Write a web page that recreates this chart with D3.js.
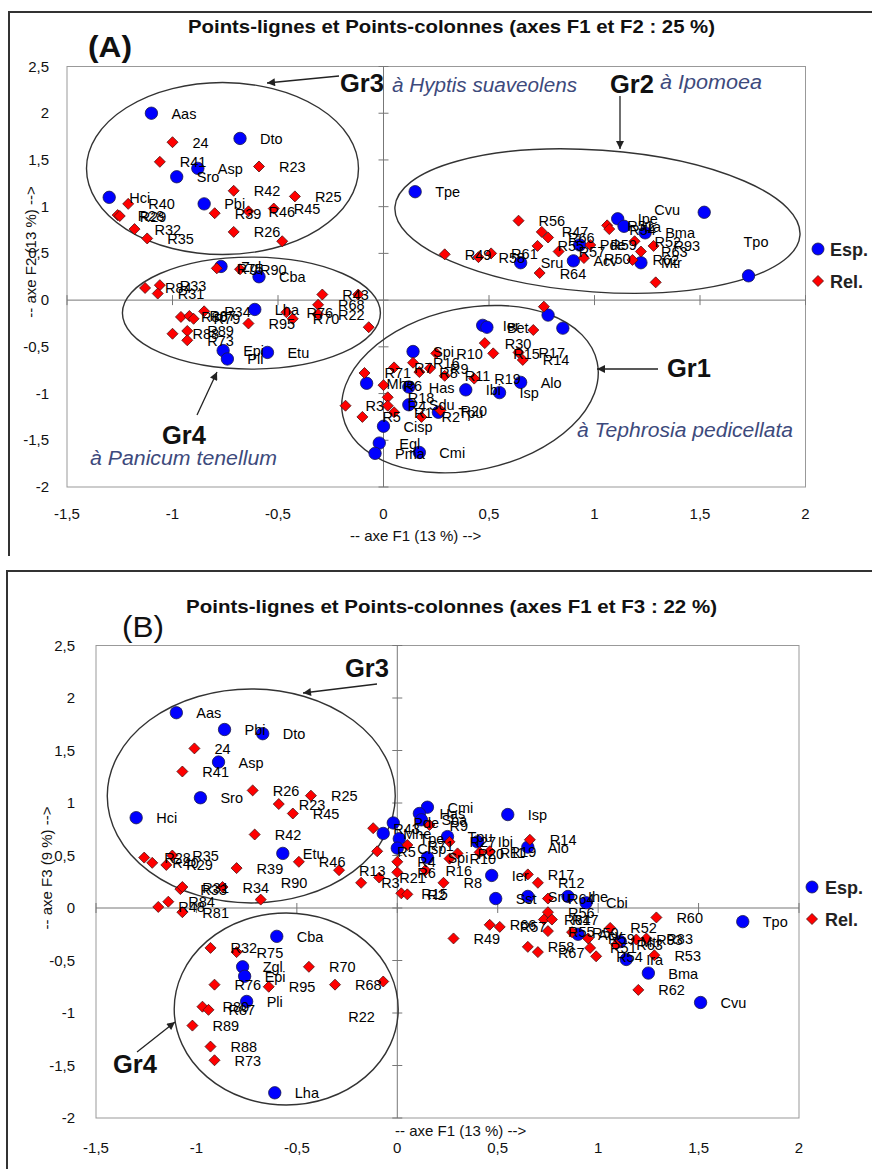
<!DOCTYPE html>
<html>
<head>
<meta charset="utf-8">
<script src="https://cdn.jsdelivr.net/npm/d3@7"></script>
<style>
  body { margin: 0; background: #fff; }
  svg { display: block; font-family: "Liberation Sans", Arial, sans-serif; }
</style>
</head>
<body>
<svg id="chart" width="872" height="1169"></svg>
<script>
// ---- data : [label, F1, F2] and [label, F1, F3] ----
var espA = [
  ["Aas", -1.10, 2.00], ["Dto", -0.68, 1.73], ["Asp", -0.88, 1.41], ["Sro", -0.98, 1.32],
  ["Hci", -1.30, 1.10], ["Pbi", -0.85, 1.03], ["Zgl", -0.77, 0.36], ["Cba", -0.59, 0.25],
  ["Lha", -0.61, -0.10], ["Epi", -0.76, -0.54], ["Pli", -0.74, -0.63], ["Etu", -0.55, -0.56],
  ["Tpe", 0.15, 1.16], ["Cvu", 1.52, 0.94], ["Tpo", 1.73, 0.26], ["Ipe", 1.11, 0.87],
  ["Ira", 1.14, 0.79], ["Bma", 1.24, 0.72], ["Mtr", 1.22, 0.40], ["Sru", 0.65, 0.40],
  ["Acv", 0.90, 0.42], ["Pde", 0.93, 0.59], ["Ier", 0.47, -0.27], ["Bet", 0.49, -0.29],
  ["", 0.78, -0.16], ["", 0.85, -0.30], ["Spi", 0.14, -0.55], ["Has", 0.12, -0.93],
  ["Mhe", -0.08, -0.89], ["Sdu", 0.12, -1.12], ["Tpu", 0.26, -1.20], ["Ibi", 0.39, -0.96],
  ["Isp", 0.55, -0.99], ["Alo", 0.65, -0.88], ["Cisp", 0.00, -1.35], ["Egl", -0.02, -1.53],
  ["Pma", -0.04, -1.64], ["Cmi", 0.17, -1.63]
];
var relA = [
  ["24", -1.00, 1.69], ["R41", -1.06, 1.48], ["R23", -0.59, 1.43], ["R42", -0.71, 1.17],
  ["R25", -0.42, 1.11], ["R45", -0.52, 0.98], ["R46", -0.64, 0.95], ["R39", -0.80, 0.93],
  ["R26", -0.71, 0.73], ["", -0.48, 0.63], ["R40", -1.21, 1.03], ["R28", -1.26, 0.91],
  ["R29", -1.25, 0.90], ["R32", -1.18, 0.76], ["R35", -1.12, 0.66],
  ["R75", -0.79, 0.34], ["R90", -0.68, 0.33], ["R33", -1.06, 0.16], ["R84", -1.13, 0.13],
  ["R31", -1.07, 0.07], ["R34", -0.85, -0.12], ["R80", -0.96, -0.18], ["R87", -0.92, -0.17],
  ["R79", -0.90, -0.20], ["R88", -1.00, -0.36], ["R89", -0.93, -0.33], ["R73", -0.93, -0.43],
  ["R95", -0.64, -0.25], ["R70", -0.43, -0.20], ["R76", -0.46, -0.13], ["R68", -0.31, -0.05],
  ["R22", -0.31, -0.15], ["R43", -0.29, 0.06], ["", -0.12, 0.06], ["", -0.07, -0.29],
  ["", 0.76, -0.07], ["", 0.71, -0.32], ["R30", 0.48, -0.46], ["R15", 0.52, -0.57],
  ["R17", 0.64, -0.56], ["R14", 0.66, -0.64], ["R10", 0.25, -0.57], ["R16", 0.14, -0.67],
  ["R8", 0.17, -0.77], ["R9", 0.22, -0.73], ["R11", 0.29, -0.81], ["R19", 0.43, -0.84],
  ["R7", 0.05, -0.72], ["R71", -0.09, -0.78], ["R6", 0.00, -0.91], ["R18", 0.02, -1.04],
  ["R4", 0.02, -1.13], ["R1", 0.05, -1.20], ["R3", -0.18, -1.13], ["R5", -0.10, -1.25],
  ["R2", 0.18, -1.25], ["R20", 0.27, -1.18],
  ["R49", 0.29, 0.49], ["R58", 0.45, 0.46], ["R61", 0.51, 0.50], ["R56", 0.64, 0.85],
  ["R47", 0.75, 0.73], ["R66", 0.78, 0.67], ["R55", 0.73, 0.58], ["R57", 0.83, 0.52],
  ["R50", 0.95, 0.45], ["R59", 0.98, 0.59], ["R51", 1.06, 0.80], ["R54", 1.07, 0.76],
  ["R52", 1.19, 0.63], ["R63", 1.22, 0.52], ["R93", 1.28, 0.58], ["R62", 1.18, 0.43],
  ["R64", 0.74, 0.29], ["", 1.29, 0.19]
];
var espB = [
  ["Aas", -1.10, 1.86], ["Pbi", -0.86, 1.70], ["Dto", -0.67, 1.66], ["Asp", -0.89, 1.39],
  ["Sro", -0.98, 1.05], ["Hci", -1.30, 0.86], ["Etu", -0.57, 0.52], ["Cba", -0.60, -0.27],
  ["Zgl", -0.77, -0.56], ["Epi", -0.76, -0.65], ["Pli", -0.75, -0.89], ["Lha", -0.61, -1.76],
  ["Cmi", 0.15, 0.96], ["Has", 0.11, 0.90], ["Sba", 0.12, 0.84], ["Pde", -0.02, 0.81],
  ["Mhe", -0.07, 0.71], ["Tpe", 0.01, 0.66], ["Cisp", 0.00, 0.57], ["Spi", 0.15, 0.48],
  ["Tpu", 0.25, 0.68], ["Ibi", 0.40, 0.63], ["Alo", 0.65, 0.58], ["Isp", 0.55, 0.89],
  ["Ier", 0.47, 0.31], ["Sst", 0.49, 0.09], ["Sru", 0.65, 0.11], ["Ihe", 0.85, 0.11],
  ["Cbi", 0.94, 0.05], ["Tpo", 1.72, -0.13], ["Bma", 1.25, -0.62], ["Cvu", 1.51, -0.90],
  ["Ira", 1.14, -0.49], ["Mtr", 1.11, -0.32], ["Acv", 0.90, -0.25]
];
var relB = [
  ["24", -1.01, 1.52], ["R41", -1.07, 1.30], ["R26", -0.72, 1.12], ["R25", -0.43, 1.07],
  ["R23", -0.59, 0.99], ["R45", -0.52, 0.90], ["R42", -0.71, 0.70], ["R46", -0.49, 0.44],
  ["R39", -0.80, 0.38], ["R28", -1.26, 0.48], ["R40", -1.22, 0.43], ["R35", -1.12, 0.50],
  ["R29", -1.15, 0.41], ["R13", -0.29, 0.36], ["R33", -1.08, 0.18], ["R31", -1.07, 0.20],
  ["R34", -0.87, 0.20], ["R90", -0.68, 0.08], ["R48", -1.19, 0.01], ["R84", -1.14, 0.06],
  ["R81", -1.07, -0.04],
  ["R32", -0.93, -0.38], ["R75", -0.80, -0.42], ["R70", -0.44, -0.56], ["R76", -0.91, -0.73],
  ["R95", -0.64, -0.75], ["R68", -0.31, -0.73], ["R22", -0.07, -0.70], ["R80", -0.97, -0.94],
  ["R87", -0.94, -0.97], ["R89", -1.02, -1.12], ["R88", -0.93, -1.32], ["R73", -0.91, -1.45],
  ["R43", -0.12, 0.76], ["R5", -0.10, 0.54], ["R71", 0.05, 0.60], ["R4", 0.00, 0.44],
  ["R6", 0.00, 0.34], ["R3", -0.18, 0.24], ["R21", -0.09, 0.29], ["R15", 0.02, 0.14],
  ["R2", 0.05, 0.13], ["R9", 0.16, 0.79], ["R27", 0.26, 0.63], ["R20", 0.30, 0.52],
  ["R11", 0.41, 0.53], ["R19", 0.46, 0.54], ["R10", 0.26, 0.47], ["R16", 0.14, 0.36],
  ["R8", 0.23, 0.24], ["R14", 0.66, 0.65], ["R17", 0.65, 0.32], ["R12", 0.70, 0.24],
  ["R60", 1.29, -0.09], ["R49", 0.28, -0.29], ["R66", 0.46, -0.16], ["R57", 0.51, -0.18],
  ["R58", 0.65, -0.37], ["R67", 0.70, -0.42], ["R56", 0.75, -0.04], ["R61", 0.73, -0.11],
  ["R47", 0.77, -0.11], ["R55", 0.75, -0.22], ["R50", 0.87, -0.23], ["R59", 0.95, -0.29],
  ["R51", 0.96, -0.38], ["R54", 0.99, -0.46], ["R52", 1.06, -0.19], ["R63", 1.09, -0.35],
  ["R93", 1.19, -0.30], ["R83", 1.24, -0.29], ["R53", 1.28, -0.45], ["R62", 1.20, -0.78],
  ["R64", 0.75, 0.09]
];
var xDomain = [-1.5, 2];
var yDomain = [-2, 2.5];
var legendNames = ["Esp.", "Rel."];

// labels moved by hand in the original (px)
var nudgeA = { Cvu: [-70, -3], Tpo: [-25, -34] };
var nudgeB = { R22: [-55, 35], R90: [0, -17] };

var svg = d3.select("#chart");
var loc = d3.formatLocale({ decimal: ",", thousands: " ", grouping: [3], currency: ["", ""], minus: "-" });
var fmt = loc.format("~f");

svg.append("defs").append("marker")
  .attr("id", "arr").attr("viewBox", "0 0 10 10")
  .attr("refX", 10).attr("refY", 5)
  .attr("markerWidth", 11).attr("markerHeight", 8)
  .attr("markerUnits", "userSpaceOnUse").attr("orient", "auto")
  .append("path").attr("d", "M0,0L10,5L0,10Z").attr("fill", "#222");

var diamond = "M0,-5.5L5.5,0L0,5.5L-5.5,0Z";

var panels = [
  {
    xr: [67, 805.5], yr: [487, 66.5], border: "M9,556V12H872",
    esp: espA, rel: relA, nudge: nudgeA,
    title: { x: 188, y: 33, len: 527, t: "Points-lignes et Points-colonnes (axes F1 et F2 : 25 %)" },
    tag: { x: 88, y: 57, t: "(A)", w: "bold", s: 29, len: 44 },
    xTickY: 519, yTickX: 49,
    xTitle: { x: 350, y: 541 }, yTitle: { x: 31, y: 252, t: "-- axe F2 (13 %) -->" },
    legend: { cx: 818, y1: 249, y2: 281, tx: 830 },
    ell: [
      { cx: -0.763, cy: 1.408, rx: 136, ry: 86, rot: 0 },
      { cx: 1.014, cy: 0.846, rx: 203, ry: 71, rot: 4 },
      { cx: -0.626, cy: -0.139, rx: 129, ry: 56, rot: 0 },
      { cx: 0.41, cy: -0.953, rx: 130, ry: 81, rot: -12 }
    ],
    groups: [
      { t: "Gr3", x: 340, y: 92 }, { t: "Gr2", x: 610, y: 93 },
      { t: "Gr4", x: 162, y: 444 }, { t: "Gr1", x: 667, y: 377 }
    ],
    italics: [
      { t: "à Hyptis suaveolens", x: 392, y: 92, len: 185 },
      { t: "à Ipomoea", x: 660, y: 89, len: 102 },
      { t: "à Panicum tenellum", x: 90, y: 465, len: 187 },
      { t: "à Tephrosia pedicellata", x: 577, y: 437, len: 216 }
    ],
    arrows: [[339, 76, 267, 83], [620, 96, 620, 149], [197, 415, 217, 372], [658, 369, 597, 369]]
  },
  {
    xr: [96, 799], yr: [1118, 645.5], border: "M7,1169V571H872",
    esp: espB, rel: relB, nudge: nudgeB,
    title: { x: 186, y: 613, len: 531, t: "Points-lignes et Points-colonnes (axes F1 et F3 : 22 %)" },
    tag: { x: 122, y: 637, t: "(B)", w: "normal", s: 29, len: 42 },
    xTickY: 1153, yTickX: 75,
    xTitle: { x: 395, y: 1136 }, yTitle: { x: 47, y: 868, t: "-- axe F3 (9 %) -->" },
    legend: { cx: 812, y1: 887, y2: 919, tx: 825 },
    ell: [
      { cx: -0.727, cy: 1.067, rx: 144, ry: 107, rot: 0 },
      { cx: -0.553, cy: -0.962, rx: 112, ry: 96, rot: 0 }
    ],
    groups: [{ t: "Gr3", x: 345, y: 677 }, { t: "Gr4", x: 113, y: 1073 }],
    italics: [],
    arrows: [[377, 684, 303, 693], [137, 1052, 175, 1022]]
  }
];

panels.forEach(drawPanel);

function drawPanel(p) {
  var x = d3.scaleLinear().domain(xDomain).range(p.xr);
  var y = d3.scaleLinear().domain(yDomain).range(p.yr);
  var g = svg.append("g");

  g.append("path").attr("d", p.border)
    .attr("fill", "none").attr("stroke", "#333").attr("stroke-width", 2);

  // plot frame
  g.append("rect")
    .attr("x", x(xDomain[0])).attr("y", y(yDomain[1]))
    .attr("width", x(xDomain[1]) - x(xDomain[0]))
    .attr("height", y(yDomain[0]) - y(yDomain[1]))
    .attr("fill", "none").attr("stroke", "#999");

  // axes crossing at zero
  var xt = x.ticks(7), yt = y.ticks(9);
  g.append("line").attr("x1", x(xDomain[0])).attr("x2", x(xDomain[1]))
    .attr("y1", y(0)).attr("y2", y(0)).attr("stroke", "#777");
  g.append("line").attr("x1", x(0)).attr("x2", x(0))
    .attr("y1", y(yDomain[0])).attr("y2", y(yDomain[1])).attr("stroke", "#777");
  g.selectAll(".xt").data(xt).enter().append("line")
    .attr("x1", d => x(d)).attr("x2", d => x(d))
    .attr("y1", y(0) - 5).attr("y2", y(0) + 5).attr("stroke", "#777");
  g.selectAll(".yt").data(yt).enter().append("line")
    .attr("x1", x(0) - 5).attr("x2", x(0) + 5)
    .attr("y1", d => y(d)).attr("y2", d => y(d)).attr("stroke", "#777");

  // tick labels
  g.selectAll(".xl").data(xt).enter().append("text")
    .attr("x", d => x(d)).attr("y", p.xTickY)
    .attr("text-anchor", "middle").attr("font-size", 15).attr("fill", "#111")
    .text(d => fmt(d));
  g.selectAll(".yl").data(yt).enter().append("text")
    .attr("x", p.yTickX).attr("y", d => y(d) + 5)
    .attr("text-anchor", "end").attr("font-size", 15).attr("fill", "#111")
    .text(d => fmt(d));

  // axis titles
  g.append("text").attr("x", p.xTitle.x).attr("y", p.xTitle.y)
    .attr("font-size", 15).attr("fill", "#111").text("-- axe F1 (13 %) -->");
  g.append("text")
    .attr("transform", "translate(" + p.yTitle.x + "," + p.yTitle.y + ") rotate(-90)")
    .attr("text-anchor", "middle").attr("dy", "0.35em")
    .attr("font-size", 15).attr("fill", "#111").text(p.yTitle.t);

  // group ellipses
  g.selectAll(".ell").data(p.ell).enter().append("ellipse")
    .attr("transform", d => "translate(" + x(d.cx) + "," + y(d.cy) + ") rotate(" + d.rot + ")")
    .attr("rx", d => d.rx).attr("ry", d => d.ry)
    .attr("fill", "none").attr("stroke", "#333").attr("stroke-width", 1.4);

  // points
  g.selectAll(".esp").data(p.esp).enter().append("circle")
    .attr("cx", d => x(d[1])).attr("cy", d => y(d[2])).attr("r", 6.2)
    .attr("fill", "#0000ff").attr("stroke", "#1a1a4a").attr("stroke-width", 0.8);
  g.selectAll(".rel").data(p.rel).enter().append("path")
    .attr("d", diamond)
    .attr("transform", d => "translate(" + x(d[1]) + "," + y(d[2]) + ")")
    .attr("fill", "#ff0000").attr("stroke", "#4a1010").attr("stroke-width", 0.8);

  // point labels
  var all = p.esp.concat(p.rel).filter(d => d[0] !== "");
  g.selectAll(".lab").data(all).enter().append("text")
    .attr("x", d => x(d[1]) + 20 + (p.nudge[d[0]] ? p.nudge[d[0]][0] : 0))
    .attr("y", d => y(d[2]) + 5.5 + (p.nudge[d[0]] ? p.nudge[d[0]][1] : 0))
    .attr("font-size", 14.5).attr("fill", "#000")
    .text(d => d[0]);

  // title and panel tag
  g.append("text").attr("x", p.title.x).attr("y", p.title.y)
    .attr("font-size", 19).attr("font-weight", "bold").attr("fill", "#111")
    .attr("textLength", p.title.len).attr("lengthAdjust", "spacingAndGlyphs")
    .text(p.title.t);
  g.append("text").attr("x", p.tag.x).attr("y", p.tag.y)
    .attr("font-size", p.tag.s).attr("font-weight", p.tag.w).attr("fill", "#111")
    .attr("textLength", p.tag.len).attr("lengthAdjust", "spacingAndGlyphs")
    .text(p.tag.t);

  // group annotations
  g.selectAll(".arr").data(p.arrows).enter().append("line")
    .attr("x1", d => d[0]).attr("y1", d => d[1]).attr("x2", d => d[2]).attr("y2", d => d[3])
    .attr("stroke", "#222").attr("stroke-width", 1.3).attr("marker-end", "url(#arr)");
  g.selectAll(".grp").data(p.groups).enter().append("text")
    .attr("x", d => d.x).attr("y", d => d.y)
    .attr("font-size", 25.5).attr("font-weight", "bold").attr("fill", "#111")
    .text(d => d.t);
  g.selectAll(".ita").data(p.italics).enter().append("text")
    .attr("x", d => d.x).attr("y", d => d.y)
    .attr("font-size", 20).attr("font-style", "italic").attr("fill", "#3d4a7c")
    .attr("textLength", d => d.len).attr("lengthAdjust", "spacingAndGlyphs")
    .text(d => d.t);

  // legend
  var lg = p.legend;
  g.append("circle").attr("cx", lg.cx).attr("cy", lg.y1).attr("r", 6)
    .attr("fill", "#0000ff").attr("stroke", "#1a1a4a").attr("stroke-width", 0.8);
  g.append("path").attr("d", diamond).attr("transform", "translate(" + lg.cx + "," + lg.y2 + ")")
    .attr("fill", "#ff0000").attr("stroke", "#4a1010").attr("stroke-width", 0.8);
  g.selectAll(".lgt").data(legendNames).enter().append("text")
    .attr("x", lg.tx).attr("y", (d, i) => (i === 0 ? lg.y1 : lg.y2) + 7)
    .attr("font-size", 18).attr("font-weight", "bold").attr("fill", "#222")
    .text(d => d);
}
</script>
</body>
</html>
